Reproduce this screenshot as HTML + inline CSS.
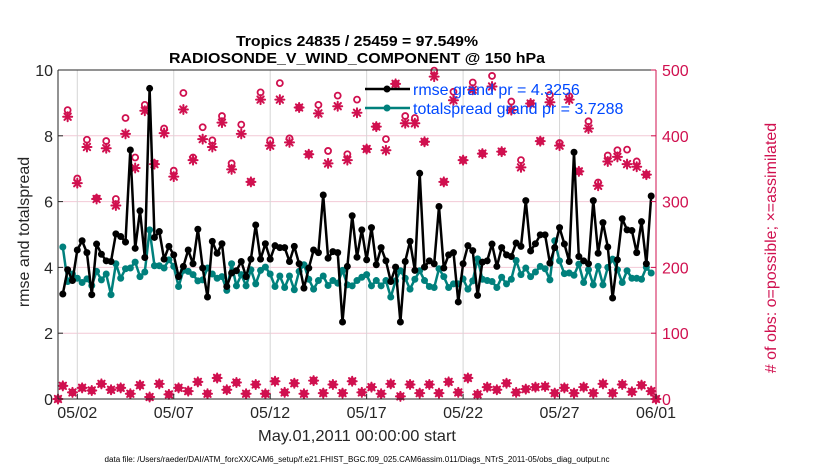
<!DOCTYPE html>
<html><head><meta charset="utf-8">
<style>
html,body{margin:0;padding:0;background:#fff;}
svg{display:block;font-family:"Liberation Sans",sans-serif;}
</style></head>
<body>
<svg id="chart" width="830" height="470" viewBox="0 0 830 470" xmlns="http://www.w3.org/2000/svg">
<text x="357" y="46" text-anchor="middle" font-size="15" font-weight="bold" textLength="242" lengthAdjust="spacingAndGlyphs">Tropics 24835 / 25459 = 97.549%</text>
<text x="357" y="63" text-anchor="middle" font-size="15" font-weight="bold" textLength="376" lengthAdjust="spacingAndGlyphs">RADIOSONDE_V_WIND_COMPONENT @ 150 hPa</text>
<g id="grid"></g>
<g id="obs"></g>
<g id="lines"></g>
<g id="axes"></g>
<text x="357" y="441" text-anchor="middle" font-size="16" textLength="198" lengthAdjust="spacingAndGlyphs" fill="#262626">May.01,2011 00:00:00 start</text>
<text transform="translate(29,232) rotate(-90)" text-anchor="middle" font-size="16" fill="#262626">rmse and totalspread</text>
<text transform="translate(776,248) rotate(-90)" text-anchor="middle" font-size="16" fill="#d0104f">#  of obs: o=possible; ×=assimilated</text>
<text x="357" y="462" text-anchor="middle" font-size="8" textLength="505" lengthAdjust="spacingAndGlyphs">data file: /Users/raeder/DAI/ATM_forcXX/CAM6_setup/f.e21.FHIST_BGC.f09_025.CAM6assim.011/Diags_NTrS_2011-05/obs_diag_output.nc</text>
<g id="legend">
  <line x1="365" y1="89" x2="410" y2="89" stroke="#000" stroke-width="2.5"/>
  <circle cx="387" cy="89" r="3.5" fill="#000"/>
  <text x="413" y="95" font-size="16" fill="#0048ff">rmse grand pr = 4.3256</text>
  <line x1="365" y1="108" x2="410" y2="108" stroke="#00807c" stroke-width="2.5"/>
  <circle cx="387" cy="108" r="3.5" fill="#00807c"/>
  <text x="413" y="114" font-size="16" fill="#0048ff">totalspread grand pr = 3.7288</text>
</g>
</svg>
<script>
const rmse = [3.19,3.93,3.6,4.53,4.81,4.45,3.17,4.71,4.4,4.2,4.18,5.02,4.94,4.77,7.57,4.58,5.72,4.3,9.44,4.91,5.09,4.25,4.64,4.38,3.72,4.03,4.53,4.11,5.16,
3.98,3.1,4.79,4.43,4.72,3.42,3.83,3.9,4.18,3.72,4.25,5.29,4.25,4.72,4.25,4.66,4.6,4.6,4.18,4.64,4.11,3.37,3.98,4.53,4.45,6.2,4.28,4.48,4.45,2.34,4.03,
5.57,4.31,5.14,4.23,5.21,4.08,4.6,4.2,3.57,4.01,2.34,4.18,4.79,3.91,6.86,4.01,4.2,4.11,5.85,3.98,4.38,4.45,2.95,4.11,4.66,4.51,3.15,4.16,4.2,4.71,4.03,
4.6,4.38,4.33,4.74,4.64,6.03,4.5,4.72,4.99,4.99,4.13,4.6,5.21,4.71,4.18,7.5,4.33,4.2,4.11,6.03,4.43,5.36,4.62,3.07,4.23,5.48,5.14,5.12,4.45,5.39,4.11,6.17];
const spread = [4.62,3.57,3.8,3.67,3.54,3.65,3.45,3.88,3.62,3.8,3.17,4.11,3.67,3.96,3.98,4.16,3.72,3.86,5.14,4.05,4.05,3.98,4.23,4.03,3.42,3.91,3.88,3.78,3.59,
3.62,3.98,3.8,3.67,3.72,3.3,4.11,3.44,3.78,3.44,3.93,3.5,3.91,4.01,3.8,3.42,3.74,3.39,3.74,3.32,3.88,4.08,3.64,3.34,3.6,3.74,3.45,3.6,3.52,3.91,3.47,
3.44,3.6,3.7,3.78,3.44,3.6,3.44,3.6,3.1,3.59,3.9,3.67,3.34,3.64,3.9,3.6,3.42,3.39,3.96,3.72,3.39,3.5,3.5,3.65,3.34,3.59,4.26,3.64,3.6,3.57,3.39,
3.7,3.5,3.64,4.21,3.78,3.98,3.72,3.86,4.03,3.96,3.62,4.81,4.2,3.81,3.83,3.76,4.1,3.54,3.93,3.47,4.03,3.47,4.0,4.25,3.93,3.54,3.9,3.67,3.67,3.64,4.0,3.83];
const obsPossible = [0,20,439,10,335,17,394,13,305,23,392,14,304,17,427,8,367,21,447,3,358,23,411,7,347,17,465,12,367,26,413,8,393,32,430,14,358,25,417,8,330,22,466,8,393,27,480,10,396,24,443,8,372,28,447,9,377,22,461,9,372,27,455,10,380,18,414,8,395,23,479,4,430,22,427,9,391,22,499,9,330,26,467,10,363,32,481,7,373,18,491,14,376,24,452,10,363,15,449,18,392,19,462,9,389,17,460,9,346,18,422,9,329,23,370,9,378,22,379,11,361,21,341,12,0];
const obsAssim = [0,20,429,10,328,17,383,13,304,23,381,14,294,17,403,8,351,21,438,3,357,23,404,7,338,17,440,12,363,26,395,8,383,32,420,14,349,25,403,8,330,22,455,8,385,27,455,10,390,24,443,8,372,28,434,9,358,22,445,9,363,27,435,10,380,18,414,8,378,23,479,4,419,22,419,9,391,22,490,9,330,26,454,10,363,32,470,7,373,18,475,14,376,24,439,10,352,15,449,18,392,19,451,9,385,17,455,9,346,18,411,9,324,23,361,9,368,22,357,11,353,21,341,12,0];
const leftTicks = [0,2,4,6,8,10];
const rightTicks = [0,100,200,300,400,500];
const dateTicks = [1,6,11,16,21,26,31];
const dateLabels = ["05/02","05/07","05/12","05/17","05/22","05/27","06/01"];

const NS="http://www.w3.org/2000/svg";
const X0=58,X1=656,Y0=399,Y1=70;
const xs=t=>X0+(X1-X0)*t/31;
const yl=v=>Y0-(Y0-Y1)*v/10;
const yr=v=>Y0-(Y0-Y1)*v/500;
const MAG="#d0104f",TEAL="#00807c";
function mk(tag,attrs,parent){const e=document.createElementNS(NS,tag);for(const k in attrs)e.setAttribute(k,attrs[k]);parent.appendChild(e);return e;}
const grid=document.getElementById('grid'),obsG=document.getElementById('obs'),lines=document.getElementById('lines'),axes=document.getElementById('axes');

leftTicks.forEach(v=>{ if(v>0&&v<10){const l=mk('line',{x1:X0,x2:X1,y1:yl(v),y2:yl(v),stroke:'#f2c9d6','stroke-width':1},grid);

}});
dateTicks.forEach(d=>{ if(d<31){const l=mk('line',{x1:xs(d),x2:xs(d),y1:Y1,y2:Y0,stroke:'#d6d6d6','stroke-width':1},grid);

}});

function star(x,y,parent){const g=mk('g',{stroke:MAG,'stroke-width':2,'stroke-linecap':'round'},parent);
 mk('line',{x1:x-4.5,x2:x+4.5,y1:y,y2:y},g);mk('line',{x1:x,x2:x,y1:y-4.5,y2:y+4.5},g);
 mk('line',{x1:x-3.2,x2:x+3.2,y1:y-3.2,y2:y+3.2},g);mk('line',{x1:x-3.2,x2:x+3.2,y1:y+3.2,y2:y-3.2},g);return g;}
obsPossible.forEach((v,i)=>{const c=mk('circle',{cx:xs(i*0.25),cy:yr(v),r:3,fill:'none',stroke:MAG,'stroke-width':1.8},obsG);

});
obsAssim.forEach((v,i)=>{const s=star(xs(i*0.25),yr(v),obsG);

});

function series(vals,color,name){
 const pts=vals.map((v,i)=>xs((i+1)*0.25).toFixed(1)+','+yl(v).toFixed(1)).join(' ');
 const p=mk('polyline',{points:pts,fill:'none',stroke:color,'stroke-width':2.5,'stroke-linejoin':'round'},lines);
 
 
 vals.forEach((v,i)=>{const c=mk('circle',{cx:xs((i+1)*0.25),cy:yl(v),r:3.5,fill:color},lines);
 
 });
}
series(spread,TEAL,'totalspread');
series(rmse,'#000','rmse');

mk('line',{x1:X0,x2:X1,y1:Y1,y2:Y1,stroke:'#262626','stroke-width':1},axes);
mk('line',{x1:X0,x2:X1,y1:Y0,y2:Y0,stroke:'#262626','stroke-width':1},axes);
mk('line',{x1:X0,x2:X0,y1:Y1,y2:Y0,stroke:'#262626','stroke-width':1},axes);
mk('line',{x1:X1,x2:X1,y1:Y1,y2:Y0,stroke:MAG,'stroke-width':1},axes);
leftTicks.forEach(v=>{mk('line',{x1:X0,x2:X0+5,y1:yl(v),y2:yl(v),stroke:'#262626'},axes);
 const t=mk('text',{x:X0-5,y:yl(v)+6,'text-anchor':'end','font-size':16,fill:'#262626'},axes);t.textContent=v;
 
 });
rightTicks.forEach(v=>{mk('line',{x1:X1-5,x2:X1,y1:yr(v),y2:yr(v),stroke:MAG},axes);
 const t=mk('text',{x:X1+6,y:yr(v)+6,'font-size':16,fill:MAG},axes);t.textContent=v;
 
 });
dateTicks.forEach((d,i)=>{mk('line',{x1:xs(d),x2:xs(d),y1:Y0,y2:Y0-5,stroke:'#262626'},axes);
 const t=mk('text',{x:xs(d),y:418,'text-anchor':'middle','font-size':16,fill:'#262626'},axes);t.textContent=dateLabels[i];
 
 });
</script>
</body></html>
